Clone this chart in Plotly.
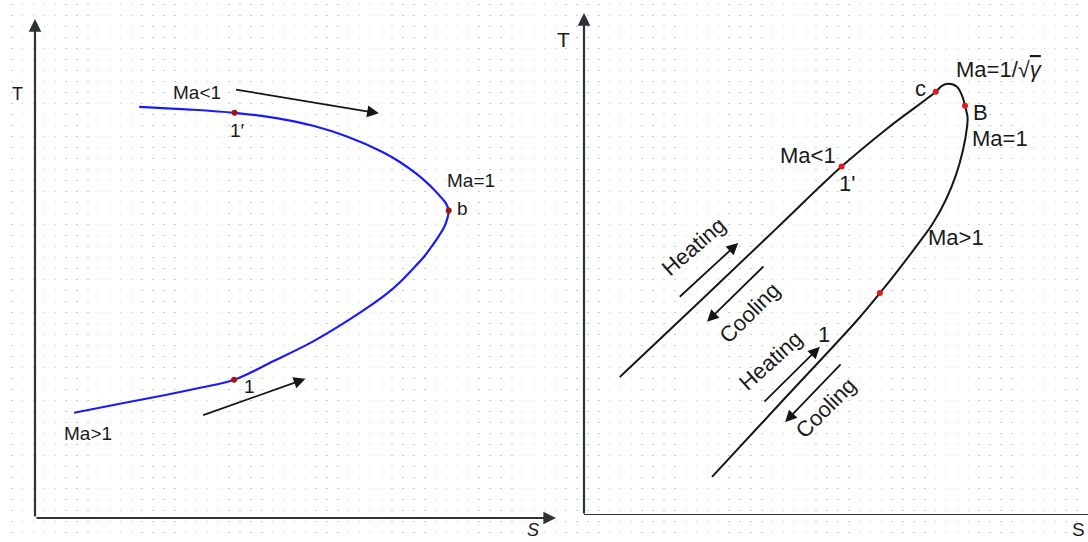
import plotly.graph_objects as go

# ---------------- data (arbitrary entropy / temperature units) ----------------
# Left panel: Fanno line
fanno_s = [0.75, 1.63, 2.53, 3.17, 3.82, 4.57, 5.34, 6.01, 6.43, 6.76, 7.03, 7.27, 7.47, 7.62,
           7.75, 7.85, 7.91, 7.94,
           7.89, 7.79, 7.67, 7.51, 7.33, 7.01, 6.66, 6.00, 5.34, 4.66, 3.83, 2.90, 2.00]
fanno_T = [2.11, 2.29, 2.47, 2.61, 2.77, 3.14, 3.54, 3.96, 4.25, 4.50, 4.75, 5.01, 5.24, 5.45,
           5.65, 5.82, 5.99, 6.16,
           6.30, 6.43, 6.57, 6.73, 6.89, 7.13, 7.34, 7.64, 7.86, 8.01, 8.12, 8.19, 8.24]
fanno_pt_names = ["1", "b", "1′"]
fanno_pt_s = [3.82, 7.94, 3.83]
fanno_pt_T = [2.77, 6.16, 8.12]

# Right panel: Rayleigh line
ray_s = [0.71, 2.25, 3.79, 5.11, 6.03, 6.98, 7.10, 7.23, 7.40, 7.51, 7.56, 7.61, 7.60,
         7.52, 7.38, 7.18, 6.93, 6.63, 6.25, 5.87, 5.42, 3.98, 2.54]
ray_T = [2.75, 4.21, 5.68, 6.94, 7.71, 8.43, 8.55, 8.59, 8.53, 8.33, 8.15, 7.93, 7.73,
         7.27, 6.77, 6.28, 5.82, 5.40, 4.90, 4.42, 3.88, 2.32, 0.76]
ray_pt_names = ["c", "B", "1'", "1"]
ray_pt_s = [6.98, 7.56, 5.11, 5.87]
ray_pt_T = [8.43, 8.15, 6.94, 4.42]

FONT = "Liberation Sans, Arial, sans-serif"
TXT = "#1a1a1a"

fig = go.Figure()

# background subplot (dot lattice)
fig.add_trace(go.Scatter(x=[None], y=[None], xaxis="x", yaxis="y",
                         showlegend=False, hoverinfo="skip"))

fig.add_trace(go.Scatter(x=fanno_s, y=fanno_T, xaxis="x2", yaxis="y2", mode="lines",
                         line=dict(color="#1a1aff", width=2.2, shape="spline", smoothing=1.0),
                         showlegend=False, hoverinfo="skip"))
fig.add_trace(go.Scatter(x=fanno_pt_s, y=fanno_pt_T, xaxis="x2", yaxis="y2", mode="markers",
                         marker=dict(color="#a8120f", size=6), text=fanno_pt_names,
                         showlegend=False, hoverinfo="skip"))

fig.add_trace(go.Scatter(x=ray_s, y=ray_T, xaxis="x3", yaxis="y3", mode="lines",
                         line=dict(color="#161616", width=2, shape="spline", smoothing=1.0),
                         showlegend=False, hoverinfo="skip"))
fig.add_trace(go.Scatter(x=ray_pt_s, y=ray_pt_T, xaxis="x3", yaxis="y3", mode="markers",
                         marker=dict(color="#e5161b", size=6), text=ray_pt_names,
                         showlegend=False, hoverinfo="skip"))

hidden = dict(showgrid=False, zeroline=False, showticklabels=False, ticks="",
              showline=False, fixedrange=True)

fig.update_layout(
    width=1088, height=542, autosize=False,
    margin=dict(l=0, r=0, t=0, b=0),
    paper_bgcolor="white", plot_bgcolor="rgba(0,0,0,0)",
    xaxis=dict(domain=[0, 1], range=[0, 1088], anchor="y", showgrid=True,
               gridcolor="#a9d6f3", gridwidth=1.5, griddash="1.6px,9.4px",
               tick0=0.9, dtick=10.87, zeroline=False, showticklabels=False,
               ticks="", showline=False, fixedrange=True),
    yaxis=dict(domain=[0, 1 - 3.7 / 542], range=[0, 1], anchor="x", **hidden),
    xaxis2=dict(domain=[35 / 1088, 556 / 1088], range=[0, 10], anchor="y2", **hidden),
    yaxis2=dict(domain=[1 - 518 / 542, 1 - 19 / 542], range=[0, 10], anchor="x2", **hidden),
    xaxis3=dict(domain=[584 / 1088, 1.0], range=[0, 10], anchor="y3", **hidden),
    yaxis3=dict(domain=[1 - 515 / 542, 1 - 13 / 542], range=[0, 10], anchor="x3", **hidden),
)

ann = []


def arrow(x, y, ax, ay, xr, yr, width=1.8, size=1.3, color="#151515", head=2):
    ann.append(dict(x=x, y=y, ax=ax, ay=ay, xref=xr, yref=yr, axref=xr, ayref=yr,
                    text="", showarrow=True, arrowhead=head, arrowsize=size,
                    arrowwidth=width, arrowcolor=color, standoff=0, startstandoff=0))


def label(x, y, t, xr, yr, size, angle=0):
    ann.append(dict(x=x, y=y, xref=xr, yref=yr, text=t, showarrow=False,
                    textangle=angle, xanchor="center", yanchor="middle",
                    font=dict(family=FONT, size=size, color=TXT)))


# axes with arrowheads
arrow(0, 10, 0, 0, "x2", "y2", width=2.2, size=1.15, color="#2e3236")
arrow(10, 0, 0, 0, "x2", "y2", width=2.2, size=1.15, color="#2e3236")
arrow(0, 10, 0, 0, "x3", "y3", width=2.2, size=1.15, color="#2e3236")
fig.add_shape(type="line", x0=0, y0=0, x1=10.2, y1=0, xref="x3", yref="y3",
              line=dict(color="#2e3236", width=2.2))

# left panel arrows
arrow(6.60, 8.11, 3.83, 8.59, "x2", "y2")
arrow(5.19, 2.79, 3.20, 2.05, "x2", "y2")

# right panel arrows
arrow(3.06, 5.42, 1.87, 4.32, "x3", "y3")
arrow(2.44, 3.85, 3.59, 4.98, "x3", "y3")
arrow(4.68, 3.35, 3.55, 2.23, "x3", "y3")
arrow(3.99, 1.85, 5.12, 3.03, "x3", "y3")

# axis titles (paper coordinates)
label(17 / 1088, 1 - 94 / 542, "T", "paper", "paper", 18)
label(533 / 1088, 1 - 530 / 542, "<i>S</i>", "paper", "paper", 18)
label(563 / 1088, 1 - 39 / 542, "T", "paper", "paper", 21)
label(1078 / 1088, 1 - 529 / 542, "S", "paper", "paper", 19)

# left panel labels
label(3.11, 8.52, "Ma<1", "x2", "y2", 19)
label(3.88, 7.76, "1′", "x2", "y2", 19)
label(8.37, 6.77, "Ma=1", "x2", "y2", 19)
label(8.20, 6.21, "b", "x2", "y2", 19)
label(4.11, 2.63, "1", "x2", "y2", 19)
label(1.02, 1.70, "Ma>1", "x2", "y2", 19)

# right panel labels
label(6.67, 8.49, "c", "x3", "y3", 22)
label(8.25, 8.88, "Ma=1/√<span style='text-decoration:overline'><i>γ</i></span>", "x3", "y3", 22)
label(7.86, 8.01, "B", "x3", "y3", 22)
label(8.25, 7.51, "Ma=1", "x3", "y3", 22)
label(4.44, 7.17, "Ma<1", "x3", "y3", 22)
label(5.22, 6.61, "1'", "x3", "y3", 22)
label(7.38, 5.52, "Ma>1", "x3", "y3", 22)
label(4.76, 3.59, "1", "x3", "y3", 22)
label(2.18, 5.34, "Heating", "x3", "y3", 22, -41)
label(3.29, 4.04, "Cooling", "x3", "y3", 22, -45)
label(3.71, 3.07, "Heating", "x3", "y3", 22, -42)
label(4.80, 2.15, "Cooling", "x3", "y3", 22, -45)

fig.update_layout(annotations=ann)

fig.write_html("out.html", config={"displayModeBar": False, "staticPlot": True},
               post_script="document.body.style.margin='0';")
